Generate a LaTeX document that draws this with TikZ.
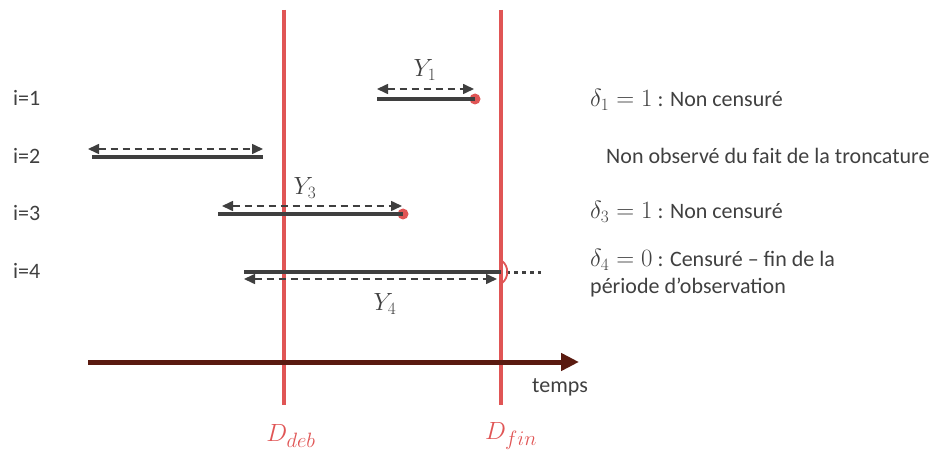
\documentclass[tikz,border=0pt]{standalone}
\usepackage{fontspec}
\setmainfont{Carlito}
\usetikzlibrary{arrows.meta}
\definecolor{redl}{HTML}{E05555}
\definecolor{darkg}{HTML}{3F3F3F}
\definecolor{txtg}{HTML}{404040}
\definecolor{axisc}{HTML}{5A1A10}
\newcommand{\mathbigx}[1]{{\fontsize{24}{28}\selectfont$#1$}}
\begin{document}
\begin{tikzpicture}[x=1pt,y=-1pt,
  lbl/.style={anchor=west,inner sep=0pt,text=txtg,font=\fontsize{22}{26}\selectfont},
  ylbl/.style={inner sep=0pt,text=txtg,font=\fontsize{23}{27}\selectfont},
  dlbl/.style={inner sep=0pt,text=redl,font=\fontsize{32}{36}\selectfont},
  bar/.style={draw=darkg,line width=3.6pt},
  dur/.style={draw=darkg,line width=1.6pt,dash pattern=on 7pt off 5pt,
    {Triangle[length=11pt,width=10pt]}-{Triangle[length=11pt,width=10pt]}},
  vline/.style={draw=redl,line width=3.2pt},
  evt/.style={circle,fill=redl,minimum size=11pt,inner sep=0pt}]
\useasboundingbox (0,0) rectangle (937,457);
% vertical lines
\coordinate (dbt) at (284,10); \coordinate (dbb) at (284,405);
\coordinate (dft) at (501,10); \coordinate (dfb) at (501,405);
\draw[vline] (dbt) -- (dbb);
\draw[vline] (dft) -- (dfb);
\node[dlbl] (ddeb) at (291,436) {$D_{deb}$};
\node[dlbl] (dfin) at (511,436) {$D_{fin}$};
% row labels
\node[lbl] (i1) at (13,98) {i=1};
\node[lbl] (i2) at (13,156) {i=2};
\node[lbl] (i3) at (13,213) {i=3};
\node[lbl] (i4) at (13,271) {i=4};
% row 1
\coordinate (a1) at (377,99); \node[evt] (e1) at (475,99) {};
\draw[bar] (a1) -- (e1.center);
\coordinate (d1a) at (377,89); \coordinate (d1b) at (474,89);
\draw[dur] (d1a) -- (d1b);
\node[ylbl] (y1) at (425,70) {$Y_1$};
% row 2
\coordinate (a2) at (92,157); \coordinate (b2) at (263,157);
\draw[bar] (a2) -- (b2);
\coordinate (d2a) at (88,149); \coordinate (d2b) at (263,149);
\draw[dur] (d2a) -- (d2b);
% row 3
\coordinate (a3) at (218,214); \node[evt] (e3) at (403,214) {};
\draw[bar] (a3) -- (e3.center);
\coordinate (d3a) at (222,206); \coordinate (d3b) at (402,206);
\draw[dur] (d3a) -- (d3b);
\node[ylbl] (y3) at (305,188) {$Y_3$};
% row 4
\coordinate (a4) at (244,272); \coordinate (b4) at (501,272); \coordinate (c4) at (541,272);
\draw[bar] (a4) -- (b4);
\draw[darkg,line width=3pt,dash pattern=on 4pt off 4pt] ([xshift=5pt]b4) -- (c4);
\coordinate (d4a) at (244,279); \coordinate (d4b) at (497,279);
\draw[dur] (d4a) -- (d4b);
\node[ylbl] (y4) at (385,304) {$Y_4$};
\draw[redl,line width=1.8pt] (502,261) .. controls (509,266) and (509,278) .. (502,283);
% time axis
\coordinate (ta) at (88,362); \coordinate (tb) at (579,362);
\draw[axisc,line width=5pt,-{Triangle[length=18pt,width=17pt]}] (ta) -- (tb);
\node[lbl] (temps) at (532,387) {temps};
% right texts
\node[lbl] (t1) at (590,100) {\mathbigx{\delta_1=1} : Non censuré};
\node[lbl] (t2) at (606,156) {Non observé du fait de la troncature};
\node[lbl] (t3) at (590,212) {\mathbigx{\delta_3=1} : Non censuré};
\node[lbl] (t4) at (590,260) {\mathbigx{\delta_4=0} : Censuré – fin de la};
\node[lbl] (t5) at (590,288) {période d’observation};
\end{tikzpicture}
\end{document}
